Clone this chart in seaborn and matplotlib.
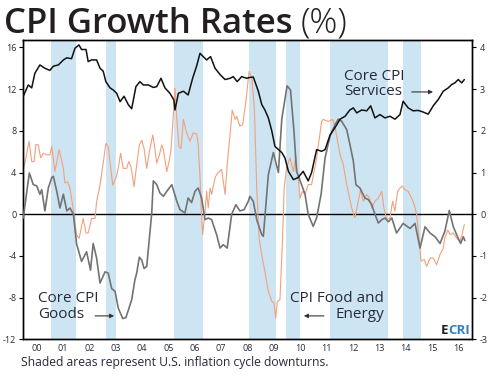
import matplotlib
matplotlib.use("Agg")
import matplotlib.pyplot as plt
import seaborn as sns
import pandas as pd

# Core CPI Services (% , right axis)
svc_t = [2000.00, 2000.19, 2000.32, 2000.44, 2000.63, 2000.82, 2001.01, 2001.14, 2001.33, 2001.52,
         2001.65, 2001.83, 2001.96, 2002.11, 2002.21, 2002.38, 2002.46, 2002.59, 2002.78, 2002.91,
         2003.03, 2003.13, 2003.29, 2003.41, 2003.54, 2003.67, 2003.82, 2003.98, 2004.11, 2004.27,
         2004.42, 2004.55, 2004.74, 2004.93, 2005.06, 2005.22, 2005.37, 2005.56, 2005.71, 2005.75,
         2005.88, 2006.07, 2006.25, 2006.42, 2006.57, 2006.70, 2006.82, 2006.95, 2007.10, 2007.27,
         2007.46, 2007.65, 2007.84, 2007.96, 2008.11, 2008.28, 2008.47, 2008.59, 2008.72, 2008.91,
         2009.04, 2009.16, 2009.29, 2009.42, 2009.54, 2009.67, 2009.80, 2009.92, 2010.05, 2010.24,
         2010.42, 2010.61, 2010.80, 2010.93, 2011.12, 2011.31, 2011.44, 2011.63, 2011.82, 2012.01,
         2012.20, 2012.38, 2012.51, 2012.64, 2012.83, 2013.02, 2013.17, 2013.33, 2013.52, 2013.71,
         2013.90, 2014.09, 2014.28, 2014.40, 2014.59, 2014.78, 2014.97, 2015.16, 2015.35, 2015.54,
         2015.73, 2015.92, 2016.11, 2016.24, 2016.36, 2016.49, 2016.62, 2016.72]
svc_v = [2.83, 3.10, 3.03, 3.38, 3.58, 3.50, 3.45, 3.55, 3.58, 3.70,
         3.75, 3.73, 3.98, 4.06, 3.95, 3.95, 3.66, 3.70, 3.70, 3.50,
         3.43, 3.18, 3.03, 2.98, 2.90, 2.70, 2.83, 2.63, 2.53, 3.06,
         3.18, 3.10, 3.10, 3.04, 3.06, 3.26, 3.03, 2.90, 2.74, 2.50,
         2.90, 2.95, 2.86, 3.26, 3.55, 3.86, 3.78, 3.70, 3.78, 3.50,
         3.35, 3.23, 3.26, 3.30, 3.18, 3.30, 3.26, 3.28, 3.29, 2.95,
         2.63, 2.50, 2.31, 2.00, 1.63, 1.55, 1.48, 1.35, 1.03, 0.83,
         0.88, 1.03, 0.80, 1.00, 1.55, 1.51, 1.55, 1.90, 2.08, 2.28,
         2.35, 2.50, 2.55, 2.43, 2.50, 2.48, 2.60, 2.31, 2.39, 2.31,
         2.35, 2.28, 2.39, 2.71, 2.55, 2.48, 2.49, 2.45, 2.40, 2.60,
         2.75, 2.95, 3.03, 3.11, 3.15, 3.23, 3.15, 3.23]

# Core CPI Goods (%, right axis)
gds_t = [2000.00, 2000.23, 2000.38, 2000.51, 2000.63, 2000.70, 2000.82, 2000.95, 2001.08, 2001.14,
         2001.27, 2001.39, 2001.52, 2001.65, 2001.77, 2001.90, 2002.02, 2002.21, 2002.40, 2002.55,
         2002.65, 2002.78, 2002.91, 2003.10, 2003.22, 2003.35, 2003.48, 2003.60, 2003.77, 2003.89,
         2004.11, 2004.23, 2004.30, 2004.40, 2004.49, 2004.58, 2004.68, 2004.87, 2004.93, 2005.06,
         2005.18, 2005.31, 2005.44, 2005.63, 2005.82, 2005.94, 2006.13, 2006.25, 2006.38, 2006.51,
         2006.63, 2006.76, 2006.89, 2007.01, 2007.14, 2007.33, 2007.46, 2007.58, 2007.73, 2007.90,
         2008.06, 2008.21, 2008.37, 2008.53, 2008.59, 2008.72, 2008.85, 2009.04, 2009.10, 2009.29,
         2009.48, 2009.67, 2009.80, 2010.00, 2010.13, 2010.26, 2010.36, 2010.55, 2010.68, 2010.80,
         2010.99, 2011.12, 2011.29, 2011.44, 2011.63, 2011.82, 2011.94, 2012.07, 2012.26, 2012.38,
         2012.51, 2012.61, 2012.76, 2012.95, 2013.08, 2013.21, 2013.33, 2013.46, 2013.59, 2013.71,
         2013.84, 2013.97, 2014.15, 2014.40, 2014.66, 2014.85, 2015.04, 2015.23, 2015.42, 2015.61,
         2015.80, 2015.98, 2016.15, 2016.30, 2016.49, 2016.58, 2016.68, 2016.74]
gds_v = [-0.09, 0.99, 0.71, 0.68, 0.48, 0.59, 0.08, 0.63, 0.88, 0.91,
         0.55, 0.15, 0.48, 0.08, 0.15, 0.00, -0.71, -1.13, -0.90, -1.34,
         -0.70, -1.05, -1.65, -1.38, -1.41, -1.78, -1.85, -2.25, -2.50, -2.48,
         -2.05, -1.58, -1.41, -1.03, -1.10, -1.30, -1.25, 0.03, 0.80, 0.71,
         0.51, 0.43, 0.55, 0.71, 0.31, 0.11, 0.03, 0.39, 0.28, 0.55,
         0.63, 0.39, -0.13, -0.09, -0.13, -0.49, -0.81, -0.73, -0.81, 0.00,
         0.23, 0.08, 0.11, 0.31, 0.43, 0.31, -0.13, -0.49, -0.53, 0.95,
         1.48, 1.00, 2.28, 3.08, 2.98, 2.00, 1.03, 0.71, 0.48, 0.00,
         -0.29, -0.09, 0.48, 1.35, 1.88, 2.15, 2.28, 2.23, 2.03, 1.68,
         1.28, 0.71, 0.63, 0.39, 0.35, 0.23, 0.00, -0.21, -0.13, -0.09,
         -0.18, -0.09, -0.45, -0.22, -0.34, -0.22, -0.81, -0.30, -0.45, -0.54,
         -0.70, -0.41, 0.09, -0.30, -0.58, -0.70, -0.54, -0.63]

# CPI Food and Energy (%, left axis)
fe_t = [2000.03, 2000.10, 2000.22, 2000.32, 2000.41, 2000.48, 2000.57, 2000.66, 2000.76, 2000.89,
        2001.01, 2001.08, 2001.20, 2001.36, 2001.52, 2001.58, 2001.68, 2001.77, 2001.90, 2002.02,
        2002.12, 2002.27, 2002.38, 2002.46, 2002.59, 2002.72, 2002.78, 2002.91, 2003.03, 2003.13,
        2003.22, 2003.39, 2003.51, 2003.60, 2003.69, 2003.79, 2003.92, 2004.00, 2004.08, 2004.20,
        2004.30, 2004.40, 2004.49, 2004.58, 2004.68, 2004.78, 2004.91, 2004.99, 2005.06, 2005.16,
        2005.25, 2005.31, 2005.44, 2005.53, 2005.60, 2005.69, 2005.75, 2005.82, 2005.90, 2005.98,
        2006.07, 2006.17, 2006.32, 2006.44, 2006.57, 2006.63, 2006.70, 2006.76, 2006.80, 2006.89,
        2006.95, 2007.01, 2007.08, 2007.14, 2007.27, 2007.33, 2007.43, 2007.52, 2007.58, 2007.65,
        2007.73, 2007.84, 2007.92, 2008.03, 2008.09, 2008.21, 2008.32, 2008.44, 2008.56, 2008.66,
        2008.76, 2008.85, 2008.94, 2009.04, 2009.16, 2009.29, 2009.42, 2009.50, 2009.57, 2009.63,
        2009.73, 2009.82, 2009.89, 2009.98, 2010.11, 2010.24, 2010.33, 2010.42, 2010.49, 2010.58,
        2010.68, 2010.80, 2010.93, 2011.12, 2011.31, 2011.37, 2011.56, 2011.73, 2011.82, 2012.01,
        2012.13, 2012.26, 2012.45, 2012.57, 2012.70, 2012.79, 2012.89, 2013.02, 2013.12, 2013.21,
        2013.33, 2013.46, 2013.59, 2013.67, 2013.78, 2013.90, 2014.00, 2014.09, 2014.19, 2014.28,
        2014.37, 2014.47, 2014.59, 2014.72, 2014.82, 2014.91, 2015.00, 2015.08, 2015.20, 2015.29,
        2015.42, 2015.54, 2015.67, 2015.79, 2015.92, 2015.98, 2016.09, 2016.18, 2016.30, 2016.43,
        2016.55, 2016.62, 2016.72]
fe_v = [4.6, 5.4, 7.0, 5.05, 5.05, 6.7, 6.65, 5.4, 5.85, 5.7,
        5.7, 6.5, 4.1, 6.2, 4.4, 3.0, 3.1, 2.5, 0.4, -2.0,
        -2.3, -0.4, -1.8, -1.8, -0.4, -0.4, 1.2, 2.8, 4.9, 6.8,
        6.5, 2.8, 3.45, 4.4, 5.85, 4.4, 4.4, 5.05, 4.6, 2.65,
        4.75, 6.65, 7.1, 6.3, 4.4, 6.0, 7.6, 6.3, 4.9, 5.7,
        6.65, 6.2, 4.1, 5.05, 6.2, 9.55, 12.1, 9.2, 6.5, 6.3,
        9.1, 8.0, 7.0, 7.8, 7.7, 6.7, 3.5, -0.35, -1.95, 0.3,
        2.2, 0.6, 2.5, 1.9, 3.5, 3.8, 4.1, 4.3, 3.2, 1.9,
        4.75, 7.65, 10.0, 9.1, 9.4, 8.45, 8.6, 10.85, 13.7, 13.1,
        10.2, 2.5, -2.3, -3.9, -5.5, -7.4, -8.35, -8.5, -9.95, -8.35,
        -8.2, -2.9, 2.5, 4.45, 5.4, 4.1, 5.55, 3.5, 1.55, 2.2,
        1.9, 2.85, 2.85, 5.4, 8.9, 9.1, 8.9, 9.1, 8.3, 5.7,
        4.75, 2.85, 0.6, -0.35, 1.25, 2.35, 1.25, 1.9, 1.55, 0.6,
        1.25, 1.55, 2.2, 0.6, -0.5, -0.35, 1.25, 0.3, 2.2, 2.5,
        2.7, 2.35, 2.2, 1.55, 0.9, 0.0, -2.3, -4.5, -4.35, -5.0,
        -4.2, -4.2, -4.85, -3.9, -3.25, -2.3, -1.5, -1.95, -1.8, -2.3,
        -2.6, -2.1, -1.0]

# inflation cycle downturns (start, end)
shade_start = [2001.05, 2003.13, 2005.71, 2008.54, 2009.96, 2011.63, 2014.39]
shade_end = [2002.00, 2003.50, 2006.80, 2009.57, 2010.49, 2013.82, 2015.06]

years = list(range(2000, 2017))
year_labels = ["%02d" % (y % 100) for y in years]
left_ticks = [-12, -8, -4, 0, 4, 8, 12, 16]
right_ticks = [-3, -2, -1, 0, 1, 2, 3, 4]

svc = pd.DataFrame({"date": svc_t, "rate": svc_v})
gds = pd.DataFrame({"date": gds_t, "rate": gds_v})
fe = pd.DataFrame({"date": fe_t, "rate": fe_v})

sns.set_style("white")
plt.rcParams["font.family"] = ["Open Sans", "DejaVu Sans"]
txt = "#262a3a"

fig = plt.figure(figsize=(4.95, 3.75), dpi=100)
ax = fig.add_axes([0.047, 0.095, 0.906, 0.798])
ax2 = ax.twinx()

for s, e in zip(shade_start, shade_end):
    ax.axvspan(s, e, color="#cde5f2", lw=0, zorder=0)
ax.axhline(0, color="black", lw=1.0, zorder=1)

sns.lineplot(data=fe, x="date", y="rate", ax=ax, color="#f3a07c", lw=0.8, zorder=2)
sns.lineplot(data=gds, x="date", y="rate", ax=ax2, color="#737373", lw=1.2, zorder=3)
sns.lineplot(data=svc, x="date", y="rate", ax=ax2, color="#111111", lw=1.1, zorder=4)

ax.set_ylim(-12, 16.7)
ax2.set_ylim(-3, 16.7 / 4)
ax.set_xlim(2000, 2017)
ax.set_xlabel("")
ax.set_ylabel("")
ax2.set_ylabel("")
ax.set_yticks(left_ticks)
ax.set_yticklabels([str(v) for v in left_ticks])
ax2.set_yticks(right_ticks)
ax2.set_yticklabels([str(v) for v in right_ticks])

ax.set_xticks(years[1:])
ax.set_xticklabels([])
ax.set_xticks([y + 0.5 for y in years], minor=True)
ax.set_xticklabels(year_labels, minor=True)
ax.tick_params(axis="x", which="major", length=3, width=0.8, color="black", direction="out")
ax.tick_params(axis="x", which="minor", length=0, labelsize=6.5, labelcolor=txt, pad=3)
ax.tick_params(axis="y", length=3, width=0.8, color="black", labelsize=6.5, labelcolor=txt, pad=2)
ax2.tick_params(axis="y", length=3, width=0.8, color="black", labelsize=6.5, labelcolor=txt, pad=3)

ax2.set_zorder(ax.get_zorder() + 1)
ax2.patch.set_visible(False)
for a in (ax, ax2):
    for sp in a.spines.values():
        sp.set_visible(True)
        sp.set_color("black")
        sp.set_linewidth(1.0)

# annotations
arrow = dict(arrowstyle="-|>", color="#333333", lw=0.8, mutation_scale=6)
ax.text(2000.56, -8.85, "Core CPI\nGoods", fontsize=11, color=txt, va="center", ha="left", linespacing=1.1)
ax.annotate("", xy=(2003.55, -9.75), xytext=(2002.62, -9.75), arrowprops=arrow)
ax.text(2013.67, -8.85, "CPI Food and\nEnergy", fontsize=11, color=txt, va="center", ha="right",
        multialignment="right", linespacing=1.1)
ax.annotate("", xy=(2010.53, -9.75), xytext=(2011.5, -9.75), arrowprops=arrow)
ax.text(2012.15, 12.5, "Core CPI\nServices", fontsize=11, color=txt, va="center", ha="left", linespacing=1.05)
ax.annotate("", xy=(2015.64, 11.73), xytext=(2014.62, 11.73), arrowprops=arrow)

# ECRI mark
cri = ax.text(2016.95, -11.45, "CRI", fontsize=9.5, fontweight="bold", color="#2f7fc1", ha="right", va="baseline")
fig.canvas.draw()
x0 = ax.transData.inverted().transform((cri.get_window_extent().x0, 0))[0]
ax.text(x0, -11.45, "E", fontsize=9.5, fontweight="bold", color="#231f20", ha="right", va="baseline")

# title
t = fig.text(0.008, 1 - 33 / 375, "CPI Growth Rates", fontsize=25, fontweight="semibold",
             color="#231f20", va="baseline", ha="left")
fig.canvas.draw()
bb = t.get_window_extent()
fig.text((bb.x1 + 8) / fig.bbox.width, 1 - 33 / 375, "(%)", fontsize=25, fontweight="light",
         color="#231f20", va="baseline", ha="left")

fig.text(0.042, 1 - 366 / 375, "Shaded areas represent U.S. inflation cycle downturns.",
         fontsize=8.7, color=txt, va="baseline", ha="left")

fig.savefig("out.png", dpi=100)
